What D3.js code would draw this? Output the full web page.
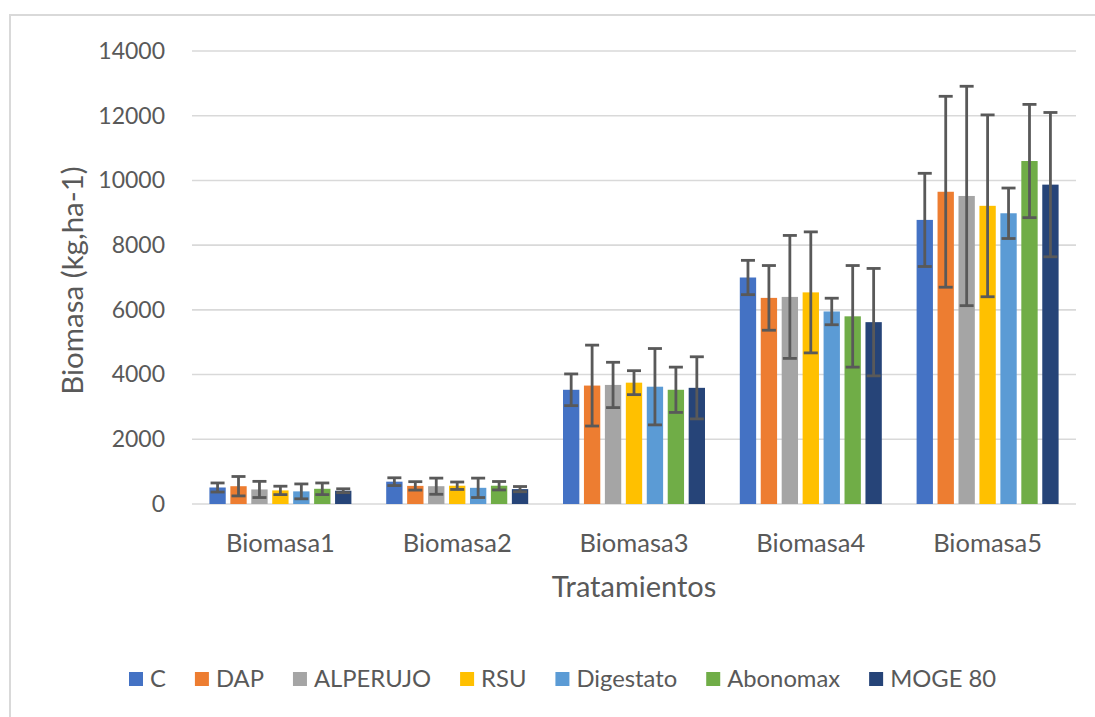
<!DOCTYPE html>
<html>
<head>
<meta charset="utf-8">
<script src="https://cdn.jsdelivr.net/npm/d3@7"></script>
<style>
  html, body { margin: 0; padding: 0; background: #fff; }
  svg { display: block; }
  text { font-family: Lato, "Open Sans", sans-serif; fill: #595959; }
</style>
</head>
<body>
<svg id="chart" width="1095" height="717"></svg>
<script>
const categories = ["Biomasa1", "Biomasa2", "Biomasa3", "Biomasa4", "Biomasa5"];
const seriesNames = ["C", "DAP", "ALPERUJO", "RSU", "Digestato", "Abonomax", "MOGE 80"];
const seriesColors = ["#4472C4", "#ED7D31", "#A5A5A5", "#FFC000", "#5B9BD5", "#70AD47", "#264478"];

// mean values per series, one entry per category
const valC         = [510, 690, 3530, 7000, 8780];
const valDAP       = [550, 560, 3660, 6370, 9650];
const valALPERUJO  = [450, 550, 3680, 6400, 9520];
const valRSU       = [420, 565, 3750, 6540, 9215];
const valDigestato = [390, 500, 3625, 5950, 8985];
const valAbonomax  = [470, 565, 3530, 5800, 10600];
const valMOGE80    = [410, 460, 3590, 5620, 9870];

// error (± value) per series
const errC         = [140, 120, 490, 530, 1440];
const errDAP       = [300, 130, 1250, 1000, 2950];
const errALPERUJO  = [250, 250, 700, 1900, 3390];
const errRSU       = [130, 115, 370, 1870, 2810];
const errDigestato = [230, 300, 1180, 410, 780];
const errAbonomax  = [180, 130, 700, 1570, 1750];
const errMOGE80    = [60, 80, 960, 1660, 2230];

const yTicks = [0, 2000, 4000, 6000, 8000, 10000, 12000, 14000];
const yTitle = "Biomasa (kg,ha-1)";
const xTitle = "Tratamientos";

const values = [valC, valDAP, valALPERUJO, valRSU, valDigestato, valAbonomax, valMOGE80];
const errors = [errC, errDAP, errALPERUJO, errRSU, errDigestato, errAbonomax, errMOGE80];

const svg = d3.select("#chart");

// outer chart border
svg.append("rect")
  .attr("x", 10).attr("y", 15).attr("width", 1100).attr("height", 720)
  .attr("fill", "none").attr("stroke", "#d9d9d9").attr("stroke-width", 2);

const pLeft = 192, pRight = 1076, pTop = 51, pBottom = 504;

const y = d3.scaleLinear().domain([0, 14000]).range([pBottom, pTop]);
const x0 = d3.scaleBand().domain(categories).range([pLeft, pRight]).padding(0);
const groupW = 142;
const x1 = d3.scaleBand().domain(seriesNames).range([0, groupW]).paddingInner(0.22).paddingOuter(0);

// gridlines
svg.append("g").selectAll("line").data(yTicks).join("line")
  .attr("x1", pLeft).attr("x2", pRight)
  .attr("y1", d => y(d)).attr("y2", d => y(d))
  .attr("stroke", "#d9d9d9").attr("stroke-width", 1.6);

// y axis labels
const yAxis = d3.axisLeft(y).tickValues(yTicks).tickSize(0).tickPadding(27).tickFormat(d3.format("d"));
const yg = svg.append("g").attr("transform", `translate(${pLeft},0)`).call(yAxis);
yg.select(".domain").remove();
yg.selectAll("text").attr("font-size", 23).attr("fill", "#595959")
  .style("font-family", "Lato, sans-serif");

// x axis labels
const xAxis = d3.axisBottom(x0).tickSize(0).tickPadding(30);
const xg = svg.append("g").attr("transform", `translate(0,${pBottom})`).call(xAxis);
xg.select(".domain").remove();
xg.selectAll("text").attr("font-size", 25.5).attr("fill", "#595959")
  .style("font-family", "Lato, sans-serif");

// data rows
const rows = [];
seriesNames.forEach((s, si) => {
  categories.forEach((c, ci) => {
    rows.push({ s, si, c, v: values[si][ci], e: errors[si][ci] });
  });
});

const gBars = svg.append("g");
gBars.selectAll("rect").data(rows).join("rect")
  .attr("x", d => x0(d.c) + (x0.bandwidth() - groupW) / 2 + x1(d.s))
  .attr("y", d => y(d.v))
  .attr("width", x1.bandwidth())
  .attr("height", d => y(0) - y(d.v))
  .attr("fill", d => seriesColors[d.si]);

// error bars
const capHalf = 7;
const gErr = svg.append("g").attr("stroke", "#595959").attr("stroke-width", 2.8).attr("fill", "none");
rows.forEach(d => {
  const cx = x0(d.c) + (x0.bandwidth() - groupW) / 2 + x1(d.s) + x1.bandwidth() / 2;
  const yt = y(d.v + d.e), yb = y(Math.max(0, d.v - d.e));
  gErr.append("line").attr("x1", cx).attr("x2", cx).attr("y1", yt).attr("y2", yb);
  gErr.append("line").attr("x1", cx - capHalf).attr("x2", cx + capHalf).attr("y1", yt).attr("y2", yt);
  gErr.append("line").attr("x1", cx - capHalf).attr("x2", cx + capHalf).attr("y1", yb).attr("y2", yb);
});

// axis titles
svg.append("text")
  .attr("transform", `translate(71,${(pTop + pBottom) / 2 + 3}) rotate(-90)`)
  .attr("text-anchor", "middle").attr("dominant-baseline", "central")
  .attr("font-size", 29.5).text(yTitle);

svg.append("text")
  .attr("x", (pLeft + pRight) / 2).attr("y", 597)
  .attr("text-anchor", "middle")
  .attr("font-size", 29).text(xTitle);

// legend
const legend = svg.append("g");
let lx = 129;
const ly = 687;
seriesNames.forEach((s, i) => {
  legend.append("rect").attr("x", lx).attr("y", ly - 15).attr("width", 14).attr("height", 14)
    .attr("fill", seriesColors[i]);
  const t = legend.append("text").attr("x", lx + 21).attr("y", ly)
    .attr("font-size", 23.8).text(s);
  lx += 21 + t.node().getComputedTextLength() + 29;
});
</script>
</body>
</html>
